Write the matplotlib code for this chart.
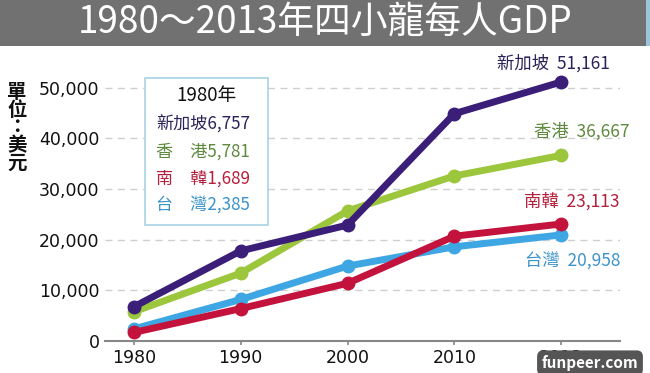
import matplotlib
matplotlib.use("Agg")
import matplotlib.pyplot as plt
from matplotlib.patches import Rectangle

plt.rcParams['font.family'] = ['Noto Sans CJK TC', 'DejaVu Sans']

years = ["1980", "1990", "2000", "2010", "2013"]
singapore = [6757, 17800, 22900, 44900, 51161]
hongkong = [5781, 13400, 25700, 32600, 36667]
korea = [1689, 6400, 11400, 20700, 23113]
taiwan = [2385, 8200, 14800, 18600, 20958]

names = ["新加坡", "香港", "南韓", "台灣"]
legend_names = ["新加坡", "香　港", "南　韓", "台　灣"]
end_labels = ["51,161", "36,667", "23,113", "20,958"]
start_labels = ["6,757", "5,781", "1,689", "2,385"]
yticks = [0, 10000, 20000, 30000, 40000, 50000]
yticklabels = ["0", "10,000", "20,000", "30,000", "40,000", "50,000"]

line_colors = ["#3a1e78", "#9cc63c", "#c3133d", "#3ea6e2"]
text_colors = ["#2a2258", "#5e8a3e", "#b5203c", "#3d93cb"]

W, H = 650, 373
fig = plt.figure(figsize=(W / 100, H / 100), dpi=100)
fig.patch.set_facecolor("white")

# title bar
fig.patches.append(Rectangle((0, 1 - 46 / H), 1, 46 / H, transform=fig.transFigure,
                             facecolor="#717171", edgecolor="none", zorder=0))
fig.patches.append(Rectangle((1 - 4 / W, 1 - 46 / H), 4 / W, 46 / H, transform=fig.transFigure,
                             facecolor="#9cc4da", edgecolor="none", zorder=1))
fig.text(0.5, 1 - 22 / H, "1980～2013年四小龍每人GDP", color="white", fontsize=26.5,
         ha="center", va="center")

ax = fig.add_axes([105 / W, (H - 341) / H, 515 / W, (341 - 60) / H])
x = list(range(len(years)))
series = [singapore, hongkong, korea, taiwan]
zorders = [6, 5, 4, 3]
for s, c, z in zip(series, line_colors, zorders):
    ax.plot(x, s, color=c, lw=5, marker="o", ms=9, solid_capstyle="round",
            solid_joinstyle="round", zorder=z)

ax.set_xlim(-0.27, 4.55)
ax.set_ylim(0, 55500)
ax.set_yticks(yticks)
ax.set_yticklabels(yticklabels, fontsize=12.5, color="#111111", family="DejaVu Sans")
ax.set_xticks(x)
ax.set_xticklabels(years, fontsize=12.5, color="#111111", family="DejaVu Sans")
ax.tick_params(axis="y", length=0, pad=4)
ax.tick_params(axis="x", length=3, width=1.2, color="#888888", pad=3)
for sp in ["left", "top", "right"]:
    ax.spines[sp].set_visible(False)
ax.spines["bottom"].set_color("#888888")
ax.spines["bottom"].set_linewidth(1.5)
ax.grid(axis="y", linestyle=(0, (5, 4)), color="#cfcfcf", lw=1)
ax.set_axisbelow(True)
ax.patch.set_alpha(0)

# unit label
fig.text(17 / W, 1 - 128 / H, "單\n位\n：\n美\n元", fontsize=14, ha="center", va="center",
         linespacing=0.92, color="#111111", fontweight="bold")

# end labels
end_pos = [(610, 63), (630, 131), (620, 201), (620, 262)]
for n, v, c, (px, py) in zip(names, end_labels, text_colors, end_pos):
    fig.text(px / W, 1 - py / H, f"{n}  {v}", color=c, fontsize=12.5, ha="right", va="center")

# 1980 box
fig.patches.append(Rectangle((145 / W, 1 - 225 / H), 123 / W, 147 / H, transform=fig.transFigure,
                             facecolor="white", edgecolor="#a9d3e4", lw=1.2, zorder=10))
fig.text(206 / W, 1 - 96 / H, "1980年", fontsize=13.5, ha="center", va="center",
         color="#111111", zorder=11)
row_y = [124, 152, 179, 206]
for n, v, c, ry in zip(legend_names, start_labels, text_colors, row_y):
    fig.text(156 / W, 1 - ry / H, n + v, fontsize=12.3, ha="left", va="center",
             color=c, zorder=11)

# watermark
fig.text(590 / W, 1 - 363 / H, "funpeer.com", fontsize=11, color="white", ha="center",
         va="center", fontweight="bold",
         bbox=dict(boxstyle="round,pad=0.3,rounding_size=0.4", fc="#555555", ec="none"),
         zorder=12)

fig.savefig("out.png", dpi=100)
